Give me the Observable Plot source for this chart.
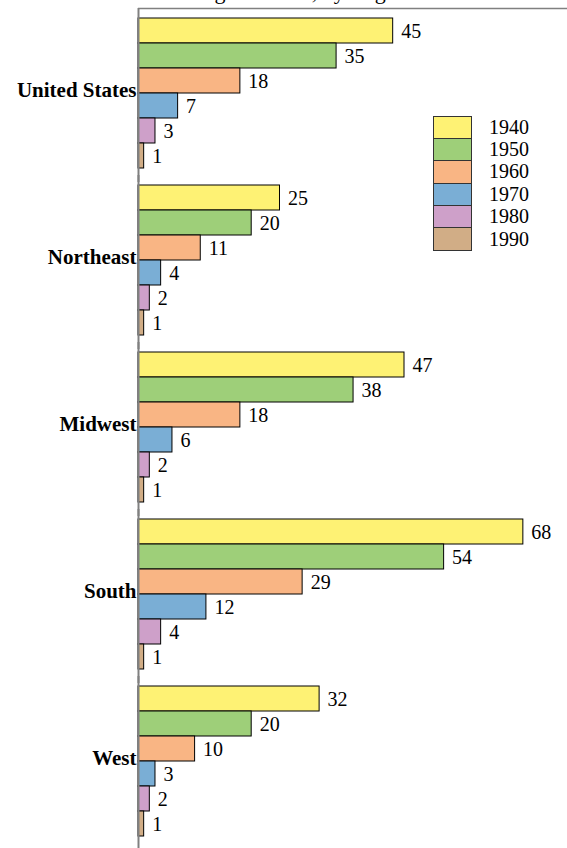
<!DOCTYPE html>
<html>
<head>
<meta charset="utf-8">
<script src="https://cdn.jsdelivr.net/npm/d3@7"></script>
<script src="https://cdn.jsdelivr.net/npm/@observablehq/plot@0.6"></script>
<style>
html, body { margin: 0; padding: 0; overflow: hidden; background: #fff; }
#wrap { position: relative; width: 567px; height: 848px; overflow: hidden; }
#title { position: absolute; left: 140px; top: -19px; font: 22px "Liberation Serif", "Times New Roman", Times, serif; line-height: 22px; white-space: nowrap; color: #000; }
#legend { position: absolute; left: 433px; top: 116px; font: 20px "Liberation Serif", "Times New Roman", Times, serif; color: #000; }
#legend .row { display: flex; align-items: center; height: 22.4px; }
#legend .sw { width: 39px; height: 23.4px; border: 1px solid #333; box-sizing: border-box; margin-right: 17px; }
</style>
</head>
<body>
<div id="wrap">
  <div id="chart"></div>
  <div id="title">Plumbing Facilities, by Region</div>
  <div id="legend"></div>
</div>
<script>
const regions = ["United States", "Northeast", "Midwest", "South", "West"];
const years = ["1940", "1950", "1960", "1970", "1980", "1990"];
const colors = ["#fef274", "#9ecf79", "#f9b584", "#7aaed5", "#cea0c9", "#d1ad86"];
const unitedStates = [45, 35, 18, 7, 3, 1];
const northeast = [25, 20, 11, 4, 2, 1];
const midwest = [47, 38, 18, 6, 2, 1];
const south = [68, 54, 29, 12, 4, 1];
const west = [32, 20, 10, 3, 2, 1];
const series = [unitedStates, northeast, midwest, south, west];

const data = regions.flatMap((r, i) => years.map((y, j) => ({region: r, year: y, value: series[i][j]})));
const serif = '"Liberation Serif", "Times New Roman", Times, serif';

const chart = Plot.plot({
  width: 567,
  height: 848,
  marginTop: 6,
  marginBottom: 0,
  marginLeft: 138,
  marginRight: 0,
  style: {fontFamily: serif, background: "#fff", color: "#000"},
  x: {domain: [0, 75.8], axis: null},
  y: {domain: years, axis: null, paddingInner: 0, paddingOuter: 0},
  fy: {domain: regions, paddingInner: 0.1, paddingOuter: 0.0597, axis: null},
  color: {domain: years, range: colors},
  marks: [
    Plot.barX(data, {fy: "region", y: "year", x: "value", fill: "year", stroke: "#000", strokeWidth: 1}),
    Plot.text(data, {fy: "region", y: "year", x: "value", text: d => String(d.value), textAnchor: "start", dx: 8, dy: 0.5, fontSize: 20, fontFamily: serif, fill: "#000"}),
    Plot.ruleX([0], {stroke: "#808080", strokeWidth: 2, insetTop: -10, insetBottom: -14}),
    Plot.ruleY(data.filter(d => d.region === regions[0] && d.year === years[0]), {fy: "region", y: "year", dy: -22.6, stroke: "#808080", strokeWidth: 1.5}),
    Plot.axisFy({anchor: "left", tickSize: 0, tickPadding: 2, label: null, fontSize: 21, fontWeight: "bold", fontFamily: serif, fill: "#000", dy: -3})
  ]
});
document.getElementById("chart").appendChild(chart);

const legend = document.getElementById("legend");
years.forEach((y, i) => {
  const row = document.createElement("div");
  row.className = "row";
  const sw = document.createElement("div");
  sw.className = "sw";
  sw.style.background = colors[i];
  const label = document.createElement("span");
  label.textContent = y;
  row.appendChild(sw);
  row.appendChild(label);
  legend.appendChild(row);
});
</script>
</body>
</html>
